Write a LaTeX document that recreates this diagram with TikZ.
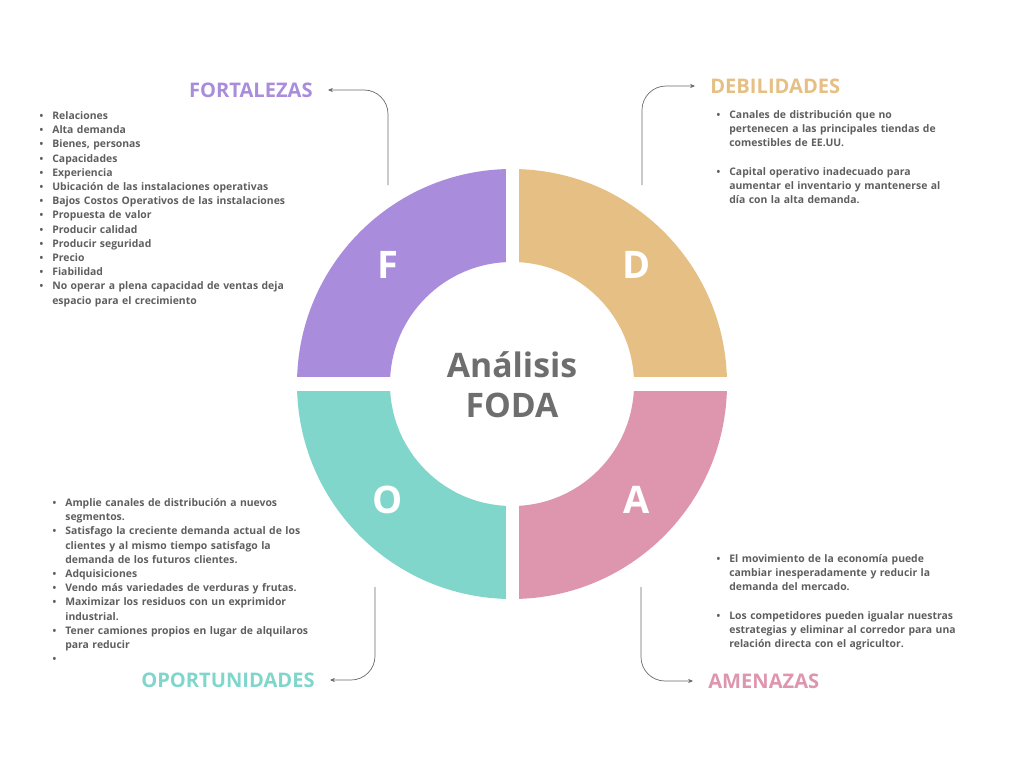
\documentclass[tikz,border=0pt]{standalone}
\usepackage{fontspec}
\setmainfont{Open Sans}
\usepackage{enumitem}
\usetikzlibrary{arrows.meta}

\definecolor{fcol}{HTML}{A98CDB}
\definecolor{dcol}{HTML}{E6BF85}
\definecolor{ocol}{HTML}{81D6CC}
\definecolor{acol}{HTML}{DE96AF}
\definecolor{txtgray}{HTML}{5E5E5E}
\definecolor{centgray}{HTML}{6E6E6E}
\definecolor{linegray}{HTML}{6A6A6A}

\setlist[itemize]{nosep,leftmargin=10pt,labelsep=6.5pt,label={\fontsize{7}{7}\selectfont\textbullet}}

\begin{document}
\begin{tikzpicture}[x=0.025cm,y=0.025cm,>={Stealth[length=3.5pt,width=3pt]},
    conn/.style={draw=linegray,line width=0.5pt,rounded corners=0.6cm,->},
    title/.style={font=\bfseries\fontsize{14.3}{16}\selectfont,inner xsep=10.7pt,inner ysep=0pt},
    letter/.style={font=\bfseries\fontsize{27}{30}\selectfont,text=white},
    items/.style={font=\bfseries\fontsize{7.4}{10.1}\selectfont,text=txtgray,align=left,inner sep=0pt,anchor=north west}]

    \useasboundingbox (0,0) rectangle (1024,-768);

    % ring quadrants
    \foreach \a/\c in {90/fcol,0/dcol,180/ocol,270/acol}
        \fill[\c] (512,-384) ++(\a:215) arc[start angle=\a,end angle=\a+90,radius=215]
            -- ++({\a+90}:-93) arc[start angle=\a+90,end angle=\a,radius=122] -- cycle;
    \fill[white] (505.5,-160) rectangle (518.5,-610);
    \fill[white] (290,-377) rectangle (735,-391);

    \node[letter] (lf) at (388,-265) {F};
    \node[letter] (ld) at (637,-265) {D};
    \node[letter] (lo) at (388,-500) {O};
    \node[letter] (la) at (637,-500) {A};
    \node[font=\bfseries\fontsize{24}{28.5}\selectfont,text=centgray,align=center] (center) at (512,-385) {Análisis\\FODA};

    % titles
    \node[title,text=fcol,anchor=east] (ftitle) at (328,-90) {FORTALEZAS};
    \node[title,text=dcol,anchor=west] (dtitle) at (695,-86) {DEBILIDADES};
    \node[title,text=ocol,anchor=east] (otitle) at (330,-680) {OPORTUNIDADES};
    \node[title,text=acol,anchor=west] (atitle) at (693,-681) {AMENAZAS};

    \coordinate (fstart) at (388,-185);
    \coordinate (dstart) at (642,-185);
    \coordinate (ostart) at (375,-587);
    \coordinate (astart) at (641,-587);
    \draw[conn] (fstart) |- (ftitle.east);
    \draw[conn] (dstart) |- (dtitle.west);
    \draw[conn] (ostart) |- (otitle.east);
    \draw[conn] (astart) |- (atitle.west);

    % lists
    \node[items,text width=183pt] (flist) at (38,-105) {%
        \begin{itemize}
        \item Relaciones
        \item Alta demanda
        \item Bienes, personas
        \item Capacidades
        \item Experiencia
        \item Ubicación de las instalaciones operativas
        \item Bajos Costos Operativos de las instalaciones
        \item Propuesta de valor
        \item Producir calidad
        \item Producir seguridad
        \item Precio
        \item Fiabilidad
        \item \makebox[\linewidth][s]{No operar a plena capacidad de ventas deja}\newline espacio para el crecimiento
        \end{itemize}};
    \node[items,text width=178pt] (dlist) at (715,-104) {%
        \begin{itemize}[itemsep=10.1pt]
        \item Canales de distribución que no\newline pertenecen a las principales tiendas de\newline comestibles de EE.UU.
        \item Capital operativo inadecuado para\newline aumentar el inventario y mantenerse al\newline día con la alta demanda.
        \end{itemize}};
    \node[items,text width=192pt] (olist) at (51,-492) {%
        \begin{itemize}
        \item Amplie canales de distribución a nuevos\newline segmentos.
        \item Satisfago la creciente demanda actual de los\newline clientes y al mismo tiempo satisfago la\newline demanda de los futuros clientes.
        \item Adquisiciones
        \item Vendo más variedades de verduras y frutas.
        \item Maximizar los residuos con un exprimidor\newline industrial.
        \item Tener camiones propios en lugar de alquilaros\newline para reducir
        \item \mbox{}
        \end{itemize}};
    \node[items,text width=178pt] (alist) at (715,-548) {%
        \begin{itemize}[itemsep=10.1pt]
        \item El movimiento de la economía puede\newline cambiar inesperadamente y reducir la\newline demanda del mercado.
        \item Los competidores pueden igualar nuestras\newline estrategias y eliminar al corredor para una\newline relación directa con el agricultor.
        \end{itemize}};
\end{tikzpicture}
\end{document}
